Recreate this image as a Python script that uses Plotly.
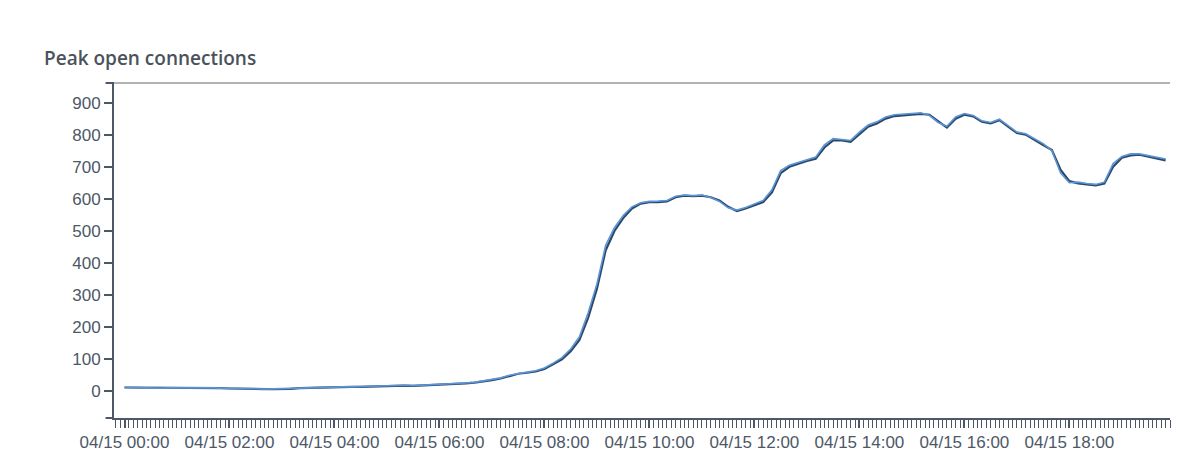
import plotly.graph_objects as go
import pandas as pd

times = pd.date_range("2023-04-15 00:00", periods=120, freq="10min")
series_dark = [12,12,11,10,10,11,11,10,11,11,10,10,9,8,8,7,7,7,7,8,10,11,11,12,12,13,14,14,15,16,
               17,18,18,17,18,19,20,22,24,25,27,30,35,40,48,55,58,62,70,85,100,125,160,230,320,440,500,540,570,585,
               590,590,592,605,610,608,610,605,595,575,562,570,580,590,620,680,700,710,718,725,760,782,782,778,800,825,835,850,858,860,
               862,865,862,842,822,850,862,857,840,835,845,825,805,800,785,768,752,690,655,648,645,642,648,700,728,735,738,732,728,720]
series_light = [13,12,12,11,10,11,12,11,11,12,11,10,10,9,8,8,7,8,8,9,10,12,12,12,13,14,14,15,16,17,
                18,18,19,18,19,20,21,23,25,26,28,32,37,42,50,56,60,64,73,88,105,132,170,245,335,455,510,548,575,588,
                592,593,595,608,612,610,612,604,592,572,565,573,583,595,628,688,705,713,722,730,768,788,785,782,808,830,840,855,862,863,
                866,868,860,838,826,855,866,860,843,838,848,828,808,803,788,772,750,680,650,652,648,645,652,710,732,740,740,735,730,724]

axis_col = "#4d5866"
fig = go.Figure()
fig.add_trace(go.Scatter(x=times, y=series_dark, mode="lines", line=dict(color="#2c4868", width=2.2), name="a"))
fig.add_trace(go.Scatter(x=times, y=series_light, mode="lines", line=dict(color="#5b95d6", width=1.6), name="b"))

fig.update_layout(
    width=1200, height=456, showlegend=False,
    paper_bgcolor="white", plot_bgcolor="white",
    margin=dict(l=106, r=38, t=75, b=41),
    font=dict(family="Liberation Sans, Arial, sans-serif", size=17, color=axis_col),
    title=dict(text="Peak open connections", x=0.03, xanchor="left", y=0.89, yanchor="middle",
               font=dict(family="Open Sans, sans-serif", size=19, color="#4a525c", weight=600)),
    xaxis=dict(range=["2023-04-14 23:48", "2023-04-15 19:55"], showgrid=False, zeroline=False,
               showline=True, linecolor=axis_col, linewidth=2,
               ticks="outside", ticklen=8, tickcolor=axis_col, tickwidth=1.5,
               dtick=2*3600*1000, tick0="2023-04-15 00:00", tickformat="%m/%d %H:%M",
               minor=dict(dtick=5*60*1000, ticks="outside", ticklen=8, tickcolor=axis_col, tickwidth=1)),
    yaxis=dict(range=[-83, 961], showgrid=False, zeroline=False, showline=True, linecolor=axis_col, linewidth=2,
               ticks="outside", ticklen=8, tickcolor=axis_col, tickwidth=1.5, tickvals=list(range(0, 1000, 100))),
)
fig.add_shape(type="line", xref="paper", yref="paper", x0=0, x1=1, y0=1, y1=1, line=dict(color="#999999", width=1.5))
fig.add_shape(type="line", xref="paper", yref="paper", x0=-0.008, x1=0, y0=1, y1=1, line=dict(color=axis_col, width=2))
fig.add_shape(type="line", xref="paper", yref="paper", x0=-0.008, x1=0, y0=0, y1=0, line=dict(color=axis_col, width=2))
fig.write_html("out.html")
